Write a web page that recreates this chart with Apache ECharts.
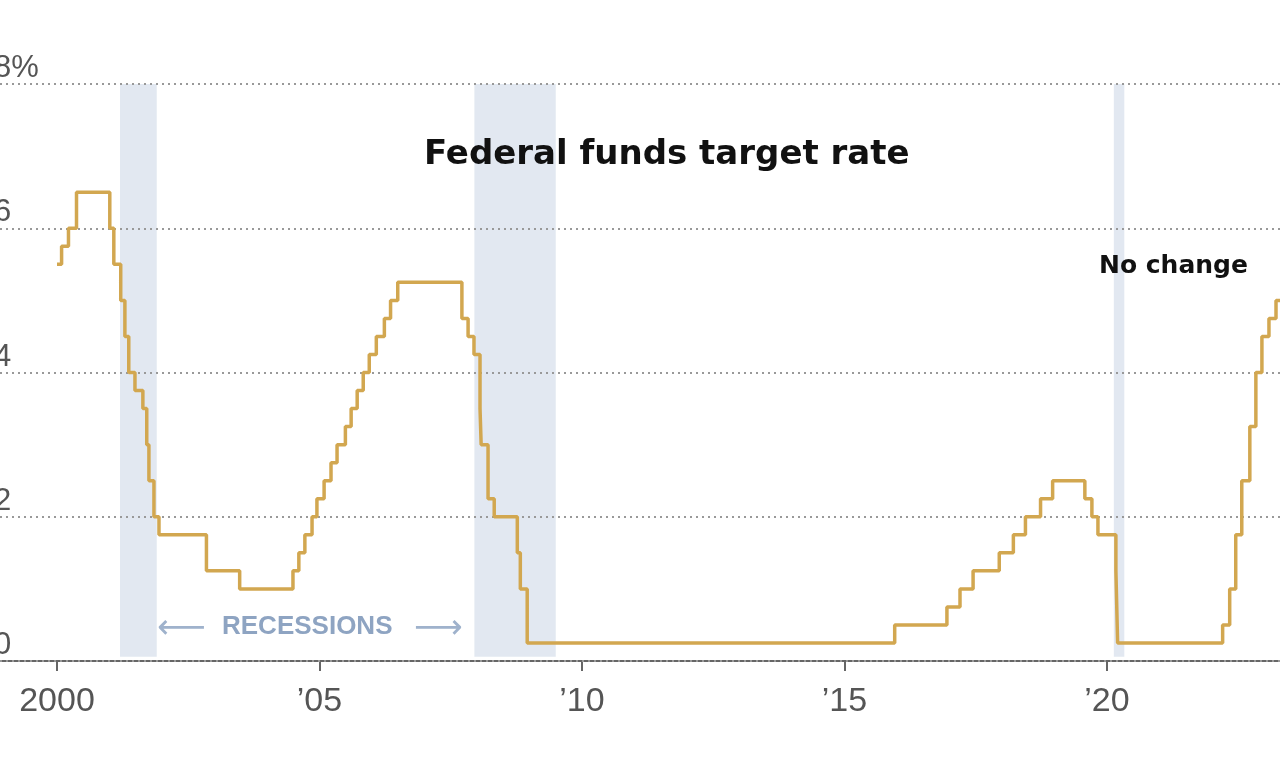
<!DOCTYPE html>
<html><head><meta charset="utf-8">
<script src="https://cdn.jsdelivr.net/npm/echarts@6/dist/echarts.min.js"></script>
<style>html,body{margin:0;padding:0;background:#fff}#c{width:1280px;height:760px}</style>
</head><body><div id="c"></div>
<script>
const dates = ["2000-01-01","2000-02-02","2000-03-21","2000-05-16","2001-01-03","2001-01-31","2001-03-20","2001-04-18","2001-05-15","2001-06-27","2001-08-21","2001-09-17","2001-10-02","2001-11-06","2001-12-11","2002-11-06","2003-06-25","2004-06-30","2004-08-10","2004-09-21","2004-11-10","2004-12-14","2005-02-02","2005-03-22","2005-05-03","2005-06-30","2005-08-09","2005-09-20","2005-11-01","2005-12-13","2006-01-31","2006-03-28","2006-05-10","2006-06-29","2007-09-18","2007-10-31","2007-12-11","2008-01-22","2008-01-30","2008-03-18","2008-04-30","2008-10-08","2008-10-29","2008-12-16","2015-12-16","2016-12-14","2017-03-15","2017-06-14","2017-12-13","2018-03-21","2018-06-13","2018-09-26","2018-12-19","2019-07-31","2019-09-18","2019-10-30","2020-03-03","2020-03-15","2022-03-16","2022-05-04","2022-06-15","2022-07-27","2022-09-21","2022-11-02","2022-12-14","2023-02-01","2023-03-22","2023-05-03","2023-07-26","2023-12-31"];
const rates = [5.5,5.75,6.0,6.5,6.0,5.5,5.0,4.5,4.0,3.75,3.5,3.0,2.5,2.0,1.75,1.25,1.0,1.25,1.5,1.75,2.0,2.25,2.5,2.75,3.0,3.25,3.5,3.75,4.0,4.25,4.5,4.75,5.0,5.25,4.75,4.5,4.25,3.5,3.0,2.25,2.0,1.5,1.0,0.25,0.5,0.75,1.0,1.25,1.5,1.75,2.0,2.25,2.5,2.25,2.0,1.75,1.25,0.25,0.5,1.0,1.75,2.5,3.25,4.0,4.5,4.75,5.0,5.25,5.5,5.5];
const recessions = [[2001.2,2001.9],[2007.95,2009.5],[2020.13,2020.33]];
const xTicks = [2000,2005,2010,2015,2020];
const xTickLabels = ["2000","’05","’10","’15","’20"];

function dec(s){const d=new Date(s+"T00:00:00Z");const y=d.getUTCFullYear();const a=Date.UTC(y,0,1),b=Date.UTC(y+1,0,1);return y+(d-a)/(b-a);}
const data = dates.map((d,i)=>[dec(d),rates[i]]);
const chart = echarts.init(document.getElementById('c'));
const xmin = 2000-57/52.5, xmax = 2000+1223/52.5;
chart.setOption({
  animation:false,
  grid:{left:0,right:0,top:84,bottom:99,containLabel:false,outerBoundsMode:'none'},
  xAxis:{type:'value',min:xmin,max:xmax,
    axisLine:{lineStyle:{color:'#666',width:2}},
    axisTick:{show:true,customValues:xTicks,length:10,lineStyle:{color:'#666',width:2}},
    axisLabel:{customValues:xTicks,formatter:v=>xTickLabels[xTicks.indexOf(Math.round(v))],fontSize:34,color:'#555',margin:24,fontFamily:'Liberation Sans'},
    splitLine:{show:false}},
  yAxis:{type:'value',min:0,max:8,interval:2,z:4,
    axisLine:{show:false},axisTick:{show:false},
    axisLabel:{inside:true,verticalAlign:'bottom',align:'left',margin:-6,fontSize:31,color:'#555',fontFamily:'Liberation Sans',formatter:v=>v===8?'8%':String(v)},
    splitLine:{lineStyle:{color:'#999',type:[2,4],width:2}}},
  series:[{type:'line',step:'end',data:data,symbol:'none',clip:true,z:5,
    lineStyle:{color:'#d2a750',width:3.5},
    markArea:{silent:true,z:1,itemStyle:{color:'#e2e8f1'},
      data:recessions.map(r=>[{xAxis:r[0],yAxis:0.06},{xAxis:r[1],yAxis:8}])}}],
  graphic:[
    {type:'text',z:100,left:424,top:138,style:{text:'Federal funds target rate',fontSize:34,fontWeight:'bold',fill:'#111',fontFamily:'DejaVu Sans'}},
    {type:'text',z:100,left:1099,top:254,style:{text:'No change',fontSize:25,fontWeight:'bold',fill:'#111',fontFamily:'DejaVu Sans'}},
    {type:'text',z:100,left:157,top:612,style:{text:'⟵',fontSize:34,fill:'#9fb2cc',fontFamily:'DejaVu Sans'}},
    {type:'text',z:100,left:222,top:614,style:{text:'RECESSIONS',fontSize:26,fontWeight:'bold',fill:'#8ea4c2',fontFamily:'Liberation Sans'}},
    {type:'text',z:100,left:414,top:612,style:{text:'⟶',fontSize:34,fill:'#9fb2cc',fontFamily:'DejaVu Sans'}}
  ]
});
</script></body></html>
